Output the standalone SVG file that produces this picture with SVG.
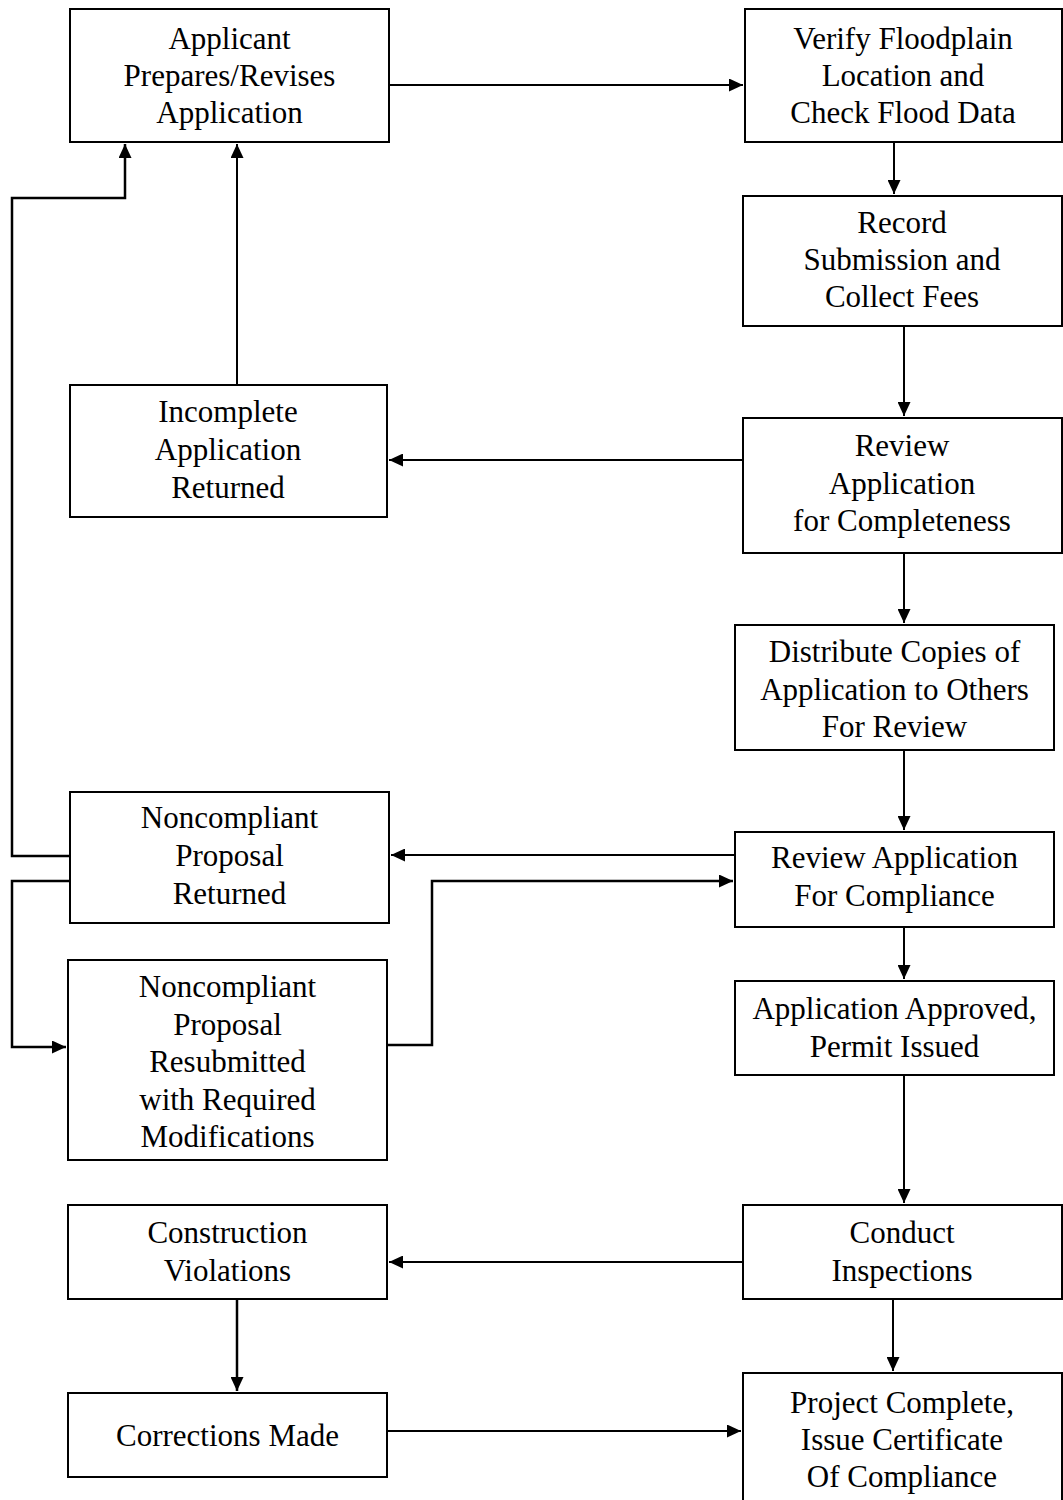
<svg xmlns="http://www.w3.org/2000/svg" width="1063" height="1500" viewBox="0 0 1063 1500">
<style>
.box{fill:#fff;stroke:#000;stroke-width:2}
.t{font-family:"Liberation Serif","Times New Roman",serif;font-size:31px;fill:#000;text-anchor:middle}
.c{fill:none;stroke:#000;stroke-width:2}
.c2{fill:none;stroke:#000;stroke-width:2.5}
</style>
<defs>
<marker id="a" markerUnits="userSpaceOnUse" markerWidth="15" markerHeight="13" refX="14" refY="6.5" orient="auto">
<path d="M0,0 L14,6.5 L0,13 Z" fill="#000"/>
</marker>
</defs>
<rect width="1063" height="1500" fill="#fff"/>
<g id="connectors">
<path class="c" d="M389,85 H743" marker-end="url(#a)"/>
<path class="c" d="M894,142 V194" marker-end="url(#a)"/>
<path class="c" d="M904,326 V416" marker-end="url(#a)"/>
<path class="c" d="M743,460 H389" marker-end="url(#a)"/>
<path class="c" d="M237,385 V144" marker-end="url(#a)"/>
<path class="c" d="M904,553 V623" marker-end="url(#a)"/>
<path class="c" d="M904,750 V830" marker-end="url(#a)"/>
<path class="c" d="M735,855 H391" marker-end="url(#a)"/>
<path class="c2" d="M74,856 H12 V198 H125 V144" marker-end="url(#a)"/>
<path class="c2" d="M70,881 H12 V1047 H66" marker-end="url(#a)"/>
<path class="c2" d="M385,1045 H432 V881 H733" marker-end="url(#a)"/>
<path class="c" d="M904,927 V979" marker-end="url(#a)"/>
<path class="c" d="M904,1075 V1203" marker-end="url(#a)"/>
<path class="c" d="M743,1262 H389" marker-end="url(#a)"/>
<path class="c" d="M893,1299 V1371" marker-end="url(#a)"/>
<path class="c2" d="M237,1299 V1391" marker-end="url(#a)"/>
<path class="c" d="M387,1431 H741" marker-end="url(#a)"/>
</g>
<g id="n1"><rect class="box" x="70" y="9" width="319" height="133"/>
<text class="t" x="229.5" y="49">Applicant</text><text class="t" x="229.5" y="86">Prepares/Revises</text><text class="t" x="229.5" y="123">Application</text></g>
<g id="n2"><rect class="box" x="745" y="9" width="317" height="133"/>
<text class="t" x="903" y="49">Verify Floodplain</text><text class="t" x="903" y="86">Location and</text><text class="t" x="903" y="123">Check Flood Data</text></g>
<g id="n3"><rect class="box" x="743" y="196" width="319" height="130"/>
<text class="t" x="902" y="233">Record</text><text class="t" x="902" y="270">Submission and</text><text class="t" x="902" y="307">Collect Fees</text></g>
<g id="n4"><rect class="box" x="743" y="418" width="319" height="135"/>
<text class="t" x="902" y="456">Review</text><text class="t" x="902" y="494">Application</text><text class="t" x="902" y="531">for Completeness</text></g>
<g id="n5"><rect class="box" x="70" y="385" width="317" height="132"/>
<text class="t" x="228" y="422">Incomplete</text><text class="t" x="228" y="460">Application</text><text class="t" x="228" y="498">Returned</text></g>
<g id="n6"><rect class="box" x="735" y="625" width="319" height="125"/>
<text class="t" x="894.5" y="662">Distribute Copies of</text><text class="t" x="894.5" y="700">Application to Others</text><text class="t" x="894.5" y="737">For Review</text></g>
<g id="n7"><rect class="box" x="70" y="792" width="319" height="131"/>
<text class="t" x="229.5" y="828">Noncompliant</text><text class="t" x="229.5" y="866">Proposal</text><text class="t" x="229.5" y="904">Returned</text></g>
<g id="n8"><rect class="box" x="735" y="832" width="319" height="95"/>
<text class="t" x="894.5" y="868">Review Application</text><text class="t" x="894.5" y="906">For Compliance</text></g>
<g id="n9"><rect class="box" x="68" y="960" width="319" height="200"/>
<text class="t" x="227.5" y="997">Noncompliant</text><text class="t" x="227.5" y="1035">Proposal</text><text class="t" x="227.5" y="1072">Resubmitted</text><text class="t" x="227.5" y="1110">with Required</text><text class="t" x="227.5" y="1147">Modifications</text></g>
<g id="n10"><rect class="box" x="735" y="981" width="319" height="94"/>
<text class="t" x="894.5" y="1019">Application Approved,</text><text class="t" x="894.5" y="1057">Permit Issued</text></g>
<g id="n11"><rect class="box" x="68" y="1205" width="319" height="94"/>
<text class="t" x="227.5" y="1243">Construction</text><text class="t" x="227.5" y="1281">Violations</text></g>
<g id="n12"><rect class="box" x="743" y="1205" width="319" height="94"/>
<text class="t" x="902" y="1243">Conduct</text><text class="t" x="902" y="1281">Inspections</text></g>
<g id="n13"><rect class="box" x="68" y="1393" width="319" height="84"/>
<text class="t" x="227.5" y="1446">Corrections Made</text></g>
<g id="n14"><rect class="box" x="743" y="1373" width="319" height="160"/>
<text class="t" x="902" y="1413">Project Complete,</text><text class="t" x="902" y="1450">Issue Certificate</text><text class="t" x="902" y="1487">Of Compliance</text></g>
</svg>
